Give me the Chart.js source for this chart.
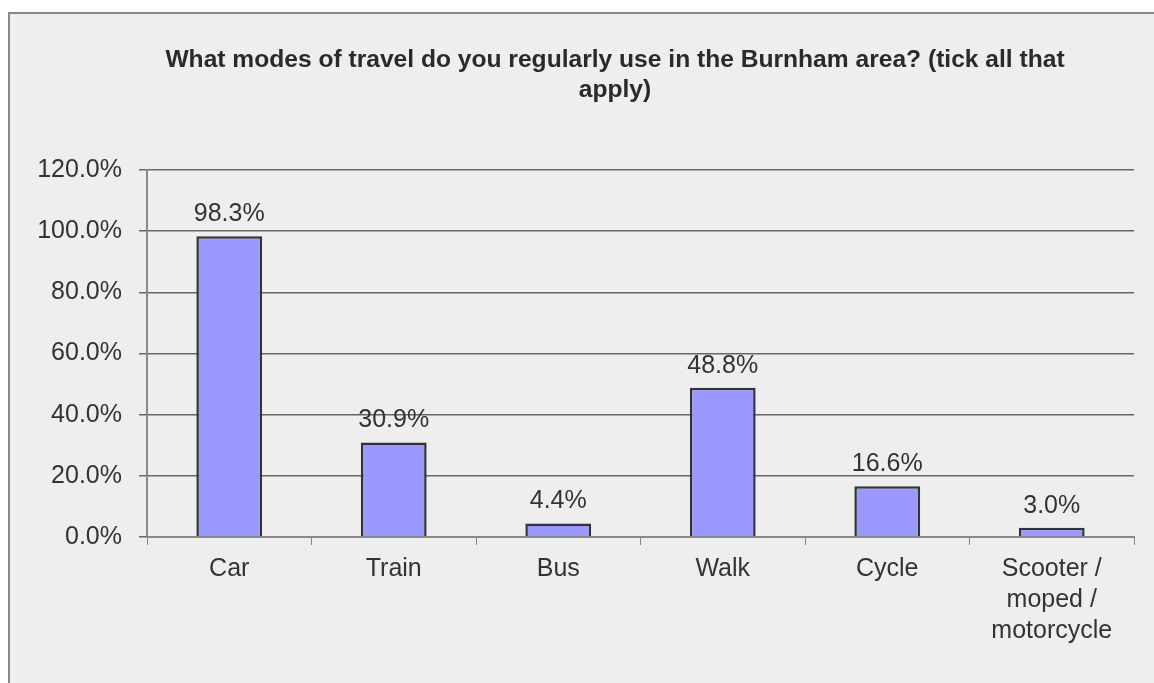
<!DOCTYPE html>
<html lang="en">
<head>
    <meta charset="UTF-8">
    <title>Modes of travel</title>
    <script src="https://cdn.jsdelivr.net/npm/chart.js"></script>
    <style>
        body {
            margin: 0;
            background: #ffffff;
        }

        .frame {
            position: absolute;
            left: 8px;
            top: 12px;
            width: 1144px;
            height: 669px;
            background: #eeeeee;
            border-top: 2px solid #888888;
            border-left: 2px solid #888888;
        }
    </style>
</head>
<body>
    <div class="frame">
        <canvas id="travelChart" width="1144" height="669"></canvas>
    </div>

    <script>
        const titleLines = ['What modes of travel do you regularly use in the Burnham area? (tick all that', 'apply)'];
        const categories = ['Car', 'Train', 'Bus', 'Walk', 'Cycle', ['Scooter /', 'moped /', 'motorcycle']];
        const percentages = [98.3, 30.9, 4.4, 48.8, 16.6, 3.0];
        const yTicks = [0, 20, 40, 60, 80, 100, 120];

        const textFont = "'Liberation Sans', Arial, sans-serif";

        // title is centred a bit left of the plot centre, so draw it here
        const chartTitle = {
            id: 'chartTitle',
            afterDraw(chart) {
                const ctx = chart.ctx;
                ctx.save();
                ctx.font = 'bold 24.6px ' + textFont;
                ctx.fillStyle = '#2a2a2a';
                ctx.textAlign = 'center';
                ctx.textBaseline = 'middle';
                titleLines.forEach((line, i) => {
                    ctx.fillText(line, 605, 46 + i * 30);
                });
                ctx.restore();
            }
        };

        // value labels above each bar
        const barLabels = {
            id: 'barLabels',
            afterDatasetsDraw(chart) {
                const ctx = chart.ctx;
                const meta = chart.getDatasetMeta(0);
                ctx.save();
                ctx.font = '25px ' + textFont;
                ctx.fillStyle = '#333333';
                ctx.textAlign = 'center';
                ctx.textBaseline = 'middle';
                meta.data.forEach((bar, i) => {
                    ctx.fillText(percentages[i].toFixed(1) + '%', bar.x, bar.y - 22);
                });
                ctx.restore();
            }
        };

        const ctx = document.getElementById('travelChart').getContext('2d');
        new Chart(ctx, {
            type: 'bar',
            data: {
                labels: categories,
                datasets: [{
                    data: percentages,
                    backgroundColor: '#9999ff',
                    borderColor: '#333333',
                    borderWidth: 2.5,
                    barPercentage: 0.4,
                    categoryPercentage: 1.0
                }]
            },
            options: {
                responsive: false,
                animation: false,
                layout: {
                    padding: { left: 0, right: 20, top: 156, bottom: 0 }
                },
                plugins: {
                    legend: { display: false },
                    tooltip: { enabled: false },
                    title: { display: false }
                },
                scales: {
                    x: {
                        offset: true,
                        grid: {
                            display: true,
                            drawOnChartArea: false,
                            drawTicks: true,
                            tickLength: 8,
                            color: '#888888'
                        },
                        border: { display: true, color: '#888888', width: 2 },
                        ticks: {
                            color: '#333333',
                            font: { family: textFont, size: 25, lineHeight: 1.24 },
                            padding: 9,
                            maxRotation: 0,
                            autoSkip: false
                        },
                        afterFit(scale) {
                            scale.height = 146;
                        }
                    },
                    y: {
                        min: 0,
                        max: 120,
                        afterBuildTicks(scale) {
                            scale.ticks = yTicks.map(v => ({ value: v }));
                        },
                        grid: {
                            color: '#666666',
                            lineWidth: 1.5,
                            tickLength: 8
                        },
                        border: { display: true, color: '#888888', width: 2 },
                        ticks: {
                            color: '#333333',
                            font: { family: textFont, size: 25 },
                            padding: 17,
                            callback: v => v.toFixed(1) + '%'
                        },
                        afterFit(scale) {
                            scale.width = 137;
                        }
                    }
                }
            },
            plugins: [barLabels, chartTitle]
        });
    </script>
</body>
</html>
